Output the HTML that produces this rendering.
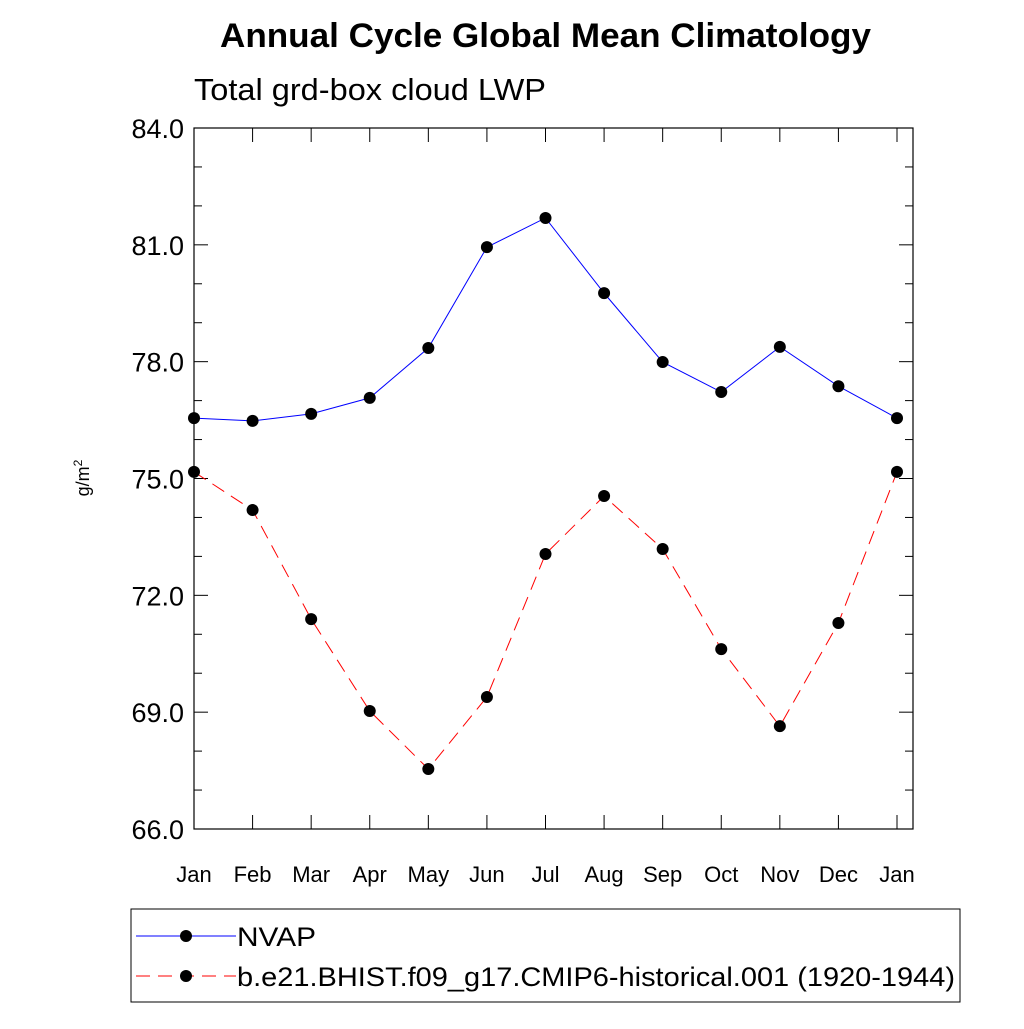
<!DOCTYPE html>
<html><head><meta charset="utf-8"><style>
body{margin:0;background:#fff}
svg text{font-family:"Liberation Sans",sans-serif}
</style></head><body>
<svg id="c" width="1024" height="1024" xmlns="http://www.w3.org/2000/svg">
<text x="220" y="47" textLength="651" lengthAdjust="spacingAndGlyphs" font-size="34" font-weight="bold">Annual Cycle Global Mean Climatology</text>
<text x="194" y="100" textLength="352" lengthAdjust="spacingAndGlyphs" font-size="31">Total grd-box cloud LWP</text>
<text transform="translate(89,478) rotate(-90)" text-anchor="middle" font-size="18">g/m<tspan dy="-7" font-size="12">2</tspan></text>
<rect x="194" y="128" width="719" height="701" fill="none" stroke="#000" stroke-width="1.2"/>
<g id="axes"></g><g id="series"></g>
<g>
<rect x="131" y="909" width="829" height="93" fill="none" stroke="#000" stroke-width="1"/>
<g>
<line x1="136" y1="936" x2="236" y2="936" stroke="#00f" stroke-width="1"/>
<circle cx="186" cy="936" r="6" fill="#000"/>
<text x="237" y="946" font-size="27" textLength="79" lengthAdjust="spacingAndGlyphs">NVAP</text></g>
<g>
<line x1="136" y1="976" x2="236" y2="976" stroke="#f00" stroke-width="1" stroke-dasharray="14,8"/>
<circle cx="186" cy="976" r="6" fill="#000"/>
<text x="237" y="986" font-size="27" textLength="718" lengthAdjust="spacingAndGlyphs">b.e21.BHIST.f09_g17.CMIP6-historical.001 (1920-1944)</text></g>
</g>
</svg>
<script>
const months=["Jan","Feb","Mar","Apr","May","Jun","Jul","Aug","Sep","Oct","Nov","Dec","Jan"];
const nvap=[76.55,76.48,76.66,77.07,78.35,80.94,81.69,79.76,77.99,77.22,78.38,77.37,76.55];
const model=[75.17,74.19,71.39,69.03,67.54,69.39,73.06,74.55,73.19,70.62,68.64,71.29,75.17];
const yTicks=[66,69,72,75,78,81,84];
const NS="http://www.w3.org/2000/svg";
const X0=194,X1=913,XEND=897,Y0=829,Y1=128,YMIN=66,YMAX=84;
const xs=i=>X0+(XEND-X0)*i/(months.length-1);
const ys=v=>Y0-(v-YMIN)/(YMAX-YMIN)*(Y0-Y1);
function mk(t,a,p){const e=document.createElementNS(NS,t);for(const k in a)e.setAttribute(k,a[k]);p.appendChild(e);return e;}
const ax=document.getElementById('axes');
months.forEach((m,i)=>{const x=xs(i);
 mk('line',{x1:x,y1:Y0,x2:x,y2:Y0-14,stroke:'#000'},ax);
 mk('line',{x1:x,y1:Y1,x2:x,y2:Y1+14,stroke:'#000'},ax);
 const t=mk('text',{x:x,y:882,'text-anchor':'middle','font-size':'22'},ax);t.textContent=m;
 
 
});
for(let v=YMIN;v<=YMAX;v++){const y=ys(v);const major=(v-YMIN)%3===0;const L=major?14:8;
 mk('line',{x1:X0,y1:y,x2:X0+L,y2:y,stroke:'#000'},ax);
 mk('line',{x1:X1,y1:y,x2:X1-L,y2:y,stroke:'#000'},ax);}
yTicks.forEach(v=>{const t=mk('text',{x:184,y:ys(v)+10,'text-anchor':'end','font-size':'27'},ax);t.textContent=v.toFixed(1);
 
 });
const sg=document.getElementById('series');
function draw(d,col,dash,name){
 const g=mk('g',{},sg);
 
 
 const pts=d.map((v,i)=>xs(i)+','+ys(v)).join(' ');
 const pl=mk('polyline',{points:pts,fill:'none',stroke:col,'stroke-width':1},g);
 if(dash)pl.setAttribute('stroke-dasharray','14,8');
 d.forEach((v,i)=>{const c=mk('circle',{cx:xs(i),cy:ys(v),r:6,fill:'#000'},g);
  
  });
}
draw(nvap,'#00f',false,'nvap-series');
draw(model,'#f00',true,'model-series');
</script>
</body></html>
